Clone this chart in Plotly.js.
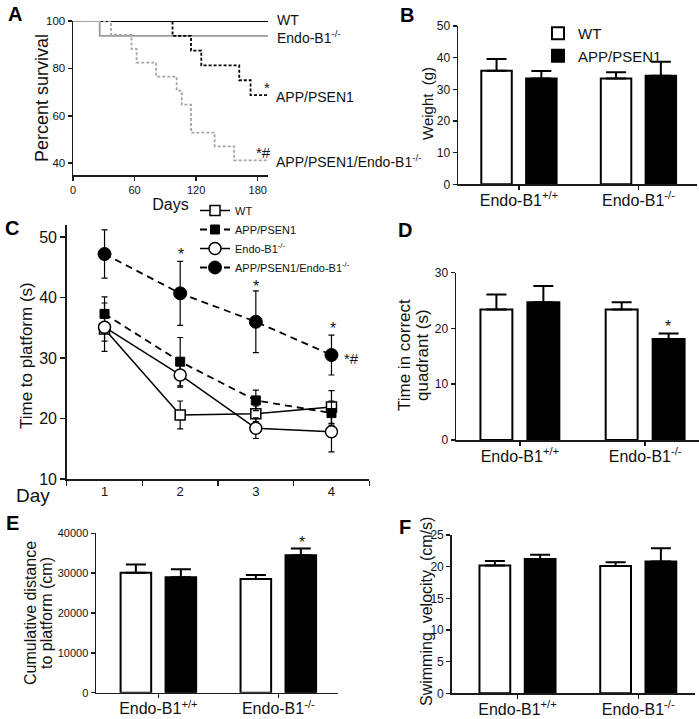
<!DOCTYPE html>
<html><head><meta charset="utf-8">
<script src="https://cdn.plot.ly/plotly-3.0.1.min.js"></script>
<style>html,body{margin:0;padding:0;background:#fff}#chart{width:699px;height:719px}</style>
</head><body><div id="chart"></div>
<script>
// ---------- Panel A: survival ----------
const wtDays = [0, 190];
const wtSurv = [100, 100];
const endoDays = [0, 26, 190];
const endoSurv = [100, 93.75, 93.75];
const appDays = [0, 97, 115, 125, 162, 173, 190];
const appSurv = [100, 93.75, 87.5, 81.25, 75, 68.75, 68.75];
const appEndoDays = [0, 37, 57, 62, 81, 101, 106, 115, 138, 157, 190];
const appEndoSurv = [100, 94.1, 88.2, 82.4, 76.5, 70.6, 64.7, 52.9, 47.1, 41.2, 41.2];
const survTicks = [0, 60, 120, 180];

// ---------- shared categories ----------
const genotypes = ['Endo-B1<sup>+/+</sup>', 'Endo-B1<sup>-/-</sup>'];

// ---------- Panel B: weight ----------
const weightWT = [35.9, 33.4];
const weightWTErr = [3.7, 2.0];
const weightAPP = [33.4, 34.3];
const weightAPPErr = [2.4, 4.4];

// ---------- Panel C: time to platform ----------
const days = [1, 2, 3, 4];
const latWT = [34.8, 20.6, 20.8, 21.9];
const latWTErr = [2.0, 2.3, 1.3, 2.7];
const latAPP = [37.3, 29.4, 23.0, 20.9];
const latAPPErr = [2.8, 4.0, 1.7, 2.0];
const latEndo = [35.1, 27.2, 18.4, 17.8];
const latEndoErr = [4.0, 2.0, 1.7, 3.3];
const latAppEndo = [47.2, 40.7, 36.0, 30.5];
const latAppEndoErr = [4.0, 5.3, 5.1, 3.3];

// ---------- Panel D: time in quadrant ----------
const quadWT = [23.4, 23.4];
const quadWTErr = [2.7, 1.3];
const quadAPP = [24.7, 18.1];
const quadAPPErr = [2.9, 1.0];

// ---------- Panel E: cumulative distance ----------
const distWT = [30100, 28550];
const distWTErr = [2100, 1000];
const distAPP = [29000, 34500];
const distAPPErr = [2000, 1700];

// ---------- Panel F: swimming velocity ----------
const velWT = [20.2, 20.1];
const velWTErr = [0.7, 0.6];
const velAPP = [21.2, 20.8];
const velAPPErr = [0.7, 2.1];

// ---------- helpers ----------
const W = 699, H = 719;
const FONT = 'Liberation Sans, Arial, sans-serif';
const dx = (a, b) => [a / W, b / W];
const dy = (top, bottom) => [1 - bottom / H, 1 - top / H];
const zeros = arr => arr.map(() => 0);

const axBase = {
  showline: true, linecolor: '#1a1a1a', linewidth: 1.5,
  ticks: 'outside', ticklen: 4, tickwidth: 1.5, tickcolor: '#1a1a1a',
  showgrid: false, zeroline: false, fixedrange: true,
  tickfont: {family: FONT, size: 12, color: '#111'}
};
function ax(o) { return Object.assign({}, axBase, o); }

function barPair(xa, ya, wt, wtErr, app, appErr, legendOn) {
  return [
    {type: 'bar', x: genotypes, y: wt, name: 'WT', xaxis: xa, yaxis: ya,
     marker: {color: '#ffffff', line: {color: '#000', width: 2}},
     error_y: {type: 'data', symmetric: false, array: wtErr, arrayminus: zeros(wtErr), color: '#000', thickness: 2, width: 10},
     showlegend: legendOn, legend: 'legend2', hoverinfo: 'skip'},
    {type: 'bar', x: genotypes, y: app, name: 'APP/PSEN1', xaxis: xa, yaxis: ya,
     marker: {color: '#000000', line: {color: '#000', width: 2}},
     error_y: {type: 'data', symmetric: false, array: appErr, arrayminus: zeros(appErr), color: '#000', thickness: 2, width: 10},
     showlegend: legendOn, legend: 'legend2', hoverinfo: 'skip'}
  ];
}

const traces = [
  // A
  {x: wtDays, y: wtSurv, xaxis: 'x', yaxis: 'y', mode: 'lines', line: {shape: 'hv', color: '#000', width: 1.8}, showlegend: false},
  {x: endoDays, y: endoSurv, xaxis: 'x', yaxis: 'y', mode: 'lines', line: {shape: 'hv', color: '#9a9a9a', width: 1.8}, showlegend: false},
  {x: appDays, y: appSurv, xaxis: 'x', yaxis: 'y', mode: 'lines', line: {shape: 'hv', color: '#000', width: 1.8, dash: '3px,2px'}, showlegend: false},
  {x: appEndoDays, y: appEndoSurv, xaxis: 'x', yaxis: 'y', mode: 'lines', line: {shape: 'hv', color: '#a6a6a6', width: 1.8, dash: '3px,2px'}, showlegend: false},
  // B
  ...barPair('x2', 'y2', weightWT, weightWTErr, weightAPP, weightAPPErr, true),
  // C
  {x: days, y: latWT, name: 'WT', xaxis: 'x3', yaxis: 'y3', mode: 'lines+markers',
   line: {color: '#000', width: 1.5},
   marker: {symbol: 'square', size: 10, color: '#fff', line: {color: '#000', width: 1.5}},
   error_y: {type: 'data', array: latWTErr, color: '#000', thickness: 1.2, width: 3}, legend: 'legend'},
  {x: days, y: latAPP, name: 'APP/PSEN1', xaxis: 'x3', yaxis: 'y3', mode: 'lines+markers',
   line: {color: '#000', width: 1.8, dash: '7px,5px'},
   marker: {symbol: 'square', size: 9, color: '#000', line: {color: '#000', width: 1}},
   error_y: {type: 'data', array: latAPPErr, color: '#000', thickness: 1.2, width: 3}, legend: 'legend'},
  {x: days, y: latEndo, name: 'Endo-B1<sup>-/-</sup>', xaxis: 'x3', yaxis: 'y3', mode: 'lines+markers',
   line: {color: '#000', width: 1.5},
   marker: {symbol: 'circle', size: 12, color: '#fff', line: {color: '#000', width: 1.5}},
   error_y: {type: 'data', array: latEndoErr, color: '#000', thickness: 1.2, width: 3}, legend: 'legend'},
  {x: days, y: latAppEndo, name: 'APP/PSEN1/Endo-B1<sup>-/-</sup>', xaxis: 'x3', yaxis: 'y3', mode: 'lines+markers',
   line: {color: '#000', width: 1.8, dash: '7px,5px'},
   marker: {symbol: 'circle', size: 13, color: '#000', line: {color: '#000', width: 1}},
   error_y: {type: 'data', array: latAppEndoErr, color: '#000', thickness: 1.2, width: 3}, legend: 'legend'},
  // D, E, F
  ...barPair('x4', 'y4', quadWT, quadWTErr, quadAPP, quadAPPErr, false),
  ...barPair('x5', 'y5', distWT, distWTErr, distAPP, distAPPErr, false),
  ...barPair('x6', 'y6', velWT, velWTErr, velAPP, velAPPErr, false)
];

const catAx = (dom, rng, anchor) => ax({domain: dom, range: rng, anchor: anchor, type: 'category',
  categoryorder: 'array', categoryarray: genotypes, ticklen: 4, ticklabelstandoff: -3,
  tickfont: {family: FONT, size: 16, color: '#111'}});
const titleFont = s => ({family: FONT, size: s, color: '#111'});

const letter = (t, x, y) => ({text: '<b>' + t + '</b>', x: x / W, y: 1 - y / H, xref: 'paper', yref: 'paper',
  showarrow: false, font: {family: FONT, size: 20, color: '#000'}, xanchor: 'center', yanchor: 'middle'});
const note = (t, x, y, size, anchor) => ({text: t, x: x / W, y: 1 - y / H, xref: 'paper', yref: 'paper',
  showarrow: false, font: {family: FONT, size: size, color: '#111'}, xanchor: anchor || 'center', yanchor: 'middle'});
const vtitle = (t, x, y, size) => Object.assign(note(t, x, y, size), {textangle: -90});

const layout = {
  width: W, height: H, margin: {l: 0, r: 0, t: 0, b: 0},
  paper_bgcolor: '#fff', plot_bgcolor: 'rgba(0,0,0,0)',
  font: {family: FONT, color: '#111'},
  barmode: 'group', bargap: 0.25, bargroupgap: 0.32,
  hovermode: false,
  xaxis: ax({domain: dx(73, 268), range: [0, 190], anchor: 'y', tickmode: 'array', tickvals: survTicks,
    tickfont: {family: FONT, size: 11, color: '#111'},
    title: {text: 'Days', font: titleFont(16), standoff: 2}}),
  yaxis: ax({domain: dy(21, 175), range: [35, 100], anchor: 'x', tickmode: 'array', tickvals: [40, 60, 80, 100],
    tickfont: {family: FONT, size: 11.5, color: '#111'}}),
  xaxis2: catAx(dx(458, 697), [-0.51, 1.49], 'y2'),
  yaxis2: ax({domain: dy(26, 184.3), range: [0, 50], anchor: 'x2', dtick: 10}),
  xaxis3: ax({domain: dx(66.7, 369.3), range: [0.5, 4.5], anchor: 'y3', tickmode: 'array',
    tickvals: days, ticktext: days.map(String), ticks: '', ticklen: 5,
    tickfont: {family: FONT, size: 13, color: '#111'},
    minor: {tickmode: 'array', tickvals: [0.5].concat(days.map(d => d + 0.5)), ticks: 'outside', ticklen: 5, tickwidth: 1.5, tickcolor: '#1a1a1a'}}),
  yaxis3: ax({domain: dy(225, 479), range: [10, 52], anchor: 'x3', tickmode: 'array', tickvals: [10, 20, 30, 40, 50], ticklen: 5,
    tickfont: {family: FONT, size: 16, color: '#111'}}),
  xaxis4: catAx(dx(456, 699), [-0.51, 1.43], 'y4'),
  yaxis4: ax({domain: dy(272.7, 440), range: [0, 30], anchor: 'x4', dtick: 10}),
  xaxis5: catAx(dx(96, 338.3), [-0.52, 1.5], 'y5'),
  yaxis5: ax({domain: dy(533.3, 692.7), range: [0, 40000], anchor: 'x5', dtick: 10000, tickformat: 'd',
    tickfont: {family: FONT, size: 11, color: '#111'}}),
  xaxis6: catAx(dx(451.7, 695), [-0.545, 1.47], 'y6'),
  yaxis6: ax({domain: dy(535, 693.3), range: [0, 25], anchor: 'x6', dtick: 5}),
  legend: {x: 195 / W, y: 1 - 196 / H, xanchor: 'left', yanchor: 'top', bgcolor: 'rgba(0,0,0,0)',
    font: {family: FONT, size: 11, color: '#111'}, tracegroupgap: 0},
  legend2: {x: 538 / W, y: 1 - 17 / H, xanchor: 'left', yanchor: 'top', bgcolor: 'rgba(0,0,0,0)',
    font: {family: FONT, size: 15, color: '#111'}},
  annotations: [
    letter('A', 15, 14), letter('B', 407, 15), letter('C', 12, 228),
    letter('D', 405, 230), letter('E', 12, 523), letter('F', 405, 527),
    // y-axis titles
    vtitle('Percent survival', 42, 98, 18),
    vtitle('Weight  (g)', 428, 104, 15),
    vtitle('Time to platform (s)', 27, 356, 17),
    vtitle('Time in correct', 405, 355, 17),
    vtitle('quadrant (s)', 423, 355, 17),
    vtitle('Cumulative distance', 30, 613, 16),
    vtitle('to platform (cm)', 46, 613, 16),
    vtitle('Swimming  velocity  (cm/s)', 426, 612, 16),
    // survival labels
    note('WT', 275, 20, 14, 'left'),
    note('Endo-B1<sup>-/-</sup>', 275, 37, 14, 'left'),
    note('*', 267, 88, 15),
    note('APP/PSEN1', 274, 97, 14, 'left'),
    note('*#', 263, 153, 15),
    note('APP/PSEN1/Endo-B1<sup>-/-</sup>', 274, 161, 14, 'left'),
    // significance marks
    note('*', 181, 255, 16), note('*', 256, 286, 16), note('*', 333, 329, 16),
    note('*#', 351, 358, 15),
    note('Day', 33, 495, 19),
    note('*', 668, 326, 16),
    note('*', 302, 542, 16)
  ]
};

Plotly.newPlot('chart', traces, layout, {staticPlot: true, displayModeBar: false});
</script>
</body></html>
